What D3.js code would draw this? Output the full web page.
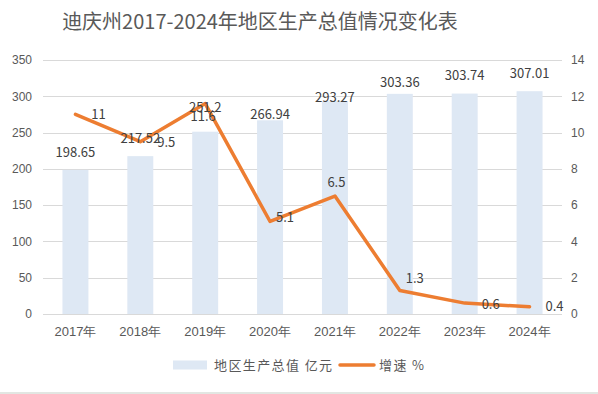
<!doctype html>
<html lang="zh">
  <head>
    <meta charset="UTF-8" />
    <title>迪庆州2017-2024年地区生产总值情况变化表</title>
    <script src="https://unpkg.com/d3@7.9.0/dist/d3.min.js"></script>
    <style>
      body {
        margin: 0;
        background: #fff;
      }
      svg {
        font-family: 'Noto Sans CJK SC', 'Noto Sans', sans-serif;
      }
    </style>
  </head>
  <body>
    <div id="chart"></div>
    <script>
      const years = ['2017年', '2018年', '2019年', '2020年', '2021年', '2022年', '2023年', '2024年'];
      const gdp = [198.65, 217.52, 251.2, 266.94, 293.27, 303.36, 303.74, 307.01];
      const growth = [11, 9.5, 11.6, 5.1, 6.5, 1.3, 0.6, 0.4];
      const leftTicks = [0, 50, 100, 150, 200, 250, 300, 350];
      const rightTicks = [0, 2, 4, 6, 8, 10, 12, 14];

      // label nudges, copied from the hand-placed labels in the original
      const barLabelLift = [17, 17.5, 24, 6, 4, 11, 18.5, 17.5];
      const lineLabelShift = [[23, 0], [26, 1], [-2, 13], [15, -4.5], [1.5, -13.5], [15, -12], [26, 1], [25, 0]];

      const W = 598, H = 394;
      const plot = { left: 43, right: 562, top: 60, bottom: 314 };

      const svg = d3.select('#chart').append('svg').attr('width', W).attr('height', H);

      const x = d3.scaleBand().domain(years).range([plot.left, plot.right]).paddingInner(0.6).paddingOuter(0.3);
      const xc = (d) => x(d) + x.bandwidth() / 2;
      const yL = d3.scaleLinear().domain([0, 350]).range([plot.bottom, plot.top]);
      const yR = d3.scaleLinear().domain([0, 14]).range([plot.bottom, plot.top]);

      // title
      svg.append('text')
        .attr('x', 260).attr('y', 29)
        .attr('text-anchor', 'middle')
        .style('font-size', '20px')
        .style('fill', '#595959')
        .text('迪庆州2017-2024年地区生产总值情况变化表');

      // gridlines
      svg.append('g')
        .selectAll('line')
        .data(leftTicks)
        .join('line')
        .attr('x1', plot.left).attr('x2', plot.right)
        .attr('y1', (d) => Math.round(yL(d)) + 0.5)
        .attr('y2', (d) => Math.round(yL(d)) + 0.5)
        .attr('stroke', '#d9d9d9').attr('stroke-width', 1);

      // left axis
      const axL = svg.append('g')
        .attr('transform', `translate(${plot.left},0)`)
        .call(d3.axisLeft(yL).tickValues(leftTicks).tickSize(0).tickPadding(11));
      axL.select('.domain').remove();
      axL.selectAll('text').style('font-size', '12px').style('fill', '#595959').style('font-family', 'inherit');

      // right axis
      const axR = svg.append('g')
        .attr('transform', `translate(${plot.right},0)`)
        .call(d3.axisRight(yR).tickValues(rightTicks).tickSize(0).tickPadding(9));
      axR.select('.domain').remove();
      axR.selectAll('text').style('font-size', '12px').style('fill', '#595959').style('font-family', 'inherit');

      // bottom axis
      const axB = svg.append('g')
        .attr('transform', `translate(0,${plot.bottom})`)
        .call(d3.axisBottom(x).tickSize(0).tickPadding(13));
      axB.select('.domain').remove();
      axB.selectAll('text').style('font-size', '13px').style('fill', '#595959').style('font-family', 'inherit');

      // bars
      svg.append('g')
        .selectAll('rect')
        .data(gdp)
        .join('rect')
        .attr('x', (d, i) => x(years[i]))
        .attr('y', (d) => yL(d))
        .attr('width', x.bandwidth())
        .attr('height', (d) => plot.bottom - yL(d))
        .attr('fill', '#dee8f4');

      // line
      const line = d3.line()
        .x((d, i) => xc(years[i]))
        .y((d) => yR(d));
      svg.append('path')
        .datum(growth)
        .attr('d', line)
        .attr('fill', 'none')
        .attr('stroke', '#ed7d31')
        .attr('stroke-width', 3.5)
        .attr('stroke-linejoin', 'round')
        .attr('stroke-linecap', 'round');

      // bar labels
      svg.append('g')
        .selectAll('text')
        .data(gdp)
        .join('text')
        .attr('x', (d, i) => xc(years[i]))
        .attr('y', (d, i) => yL(d) - barLabelLift[i])
        .attr('dy', '0.35em')
        .attr('text-anchor', 'middle')
        .style('font-size', '13px')
        .style('fill', '#404040')
        .text((d) => d);

      // line labels
      svg.append('g')
        .selectAll('text')
        .data(growth)
        .join('text')
        .attr('x', (d, i) => xc(years[i]) + lineLabelShift[i][0])
        .attr('y', (d, i) => yR(d) + lineLabelShift[i][1])
        .attr('dy', '0.35em')
        .attr('text-anchor', 'middle')
        .style('font-size', '13px')
        .style('fill', '#404040')
        .text((d) => d);

      // legend
      const lg = svg.append('g').attr('transform', 'translate(0,365)');
      lg.append('rect').attr('x', 173).attr('y', -4.5).attr('width', 34).attr('height', 9).attr('fill', '#dee8f4');
      lg.append('text').attr('x', 214).attr('dy', '0.35em')
        .style('font-size', '13px').style('letter-spacing', '1.4px')
        .style('fill', '#595959').text('地区生产总值 亿元');
      lg.append('line').attr('x1', 340).attr('x2', 374).attr('stroke', '#ed7d31')
        .attr('stroke-width', 3.5).attr('stroke-linecap', 'round');
      lg.append('text').attr('x', 379).attr('dy', '0.35em')
        .style('font-size', '13px').style('letter-spacing', '1.4px')
        .style('fill', '#595959').text('增速 %');

      // sheet edge below the chart
      svg.append('rect').attr('x', 0).attr('y', 392).attr('width', W).attr('height', 2).attr('fill', '#e2e6e2');
    </script>
  </body>
</html>
